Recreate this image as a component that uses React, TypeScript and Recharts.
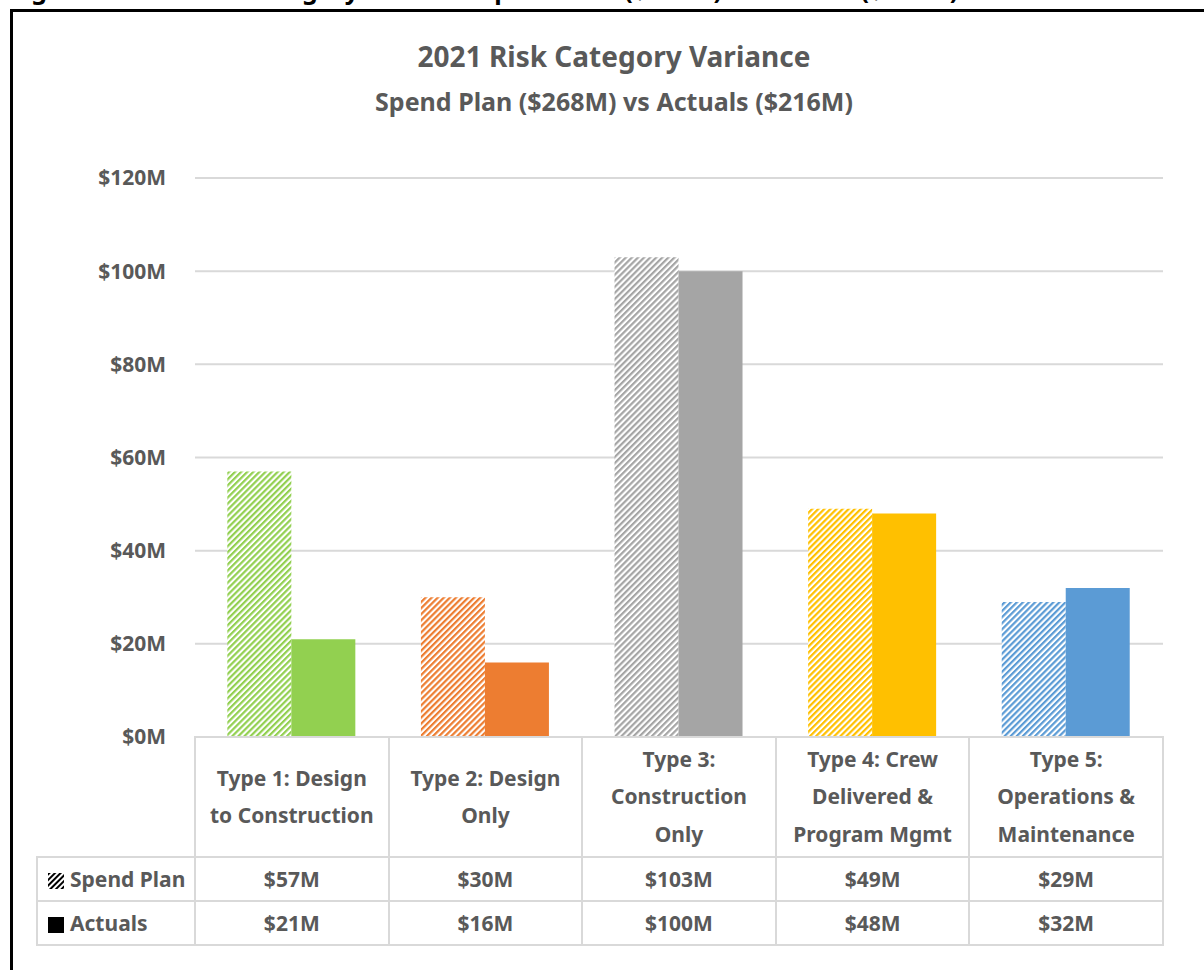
import { BarChart, Bar, XAxis, YAxis, CartesianGrid, Cell } from 'recharts'

// values in $M
const categories = [
  ['Type 1: Design', 'to Construction'],
  ['Type 2: Design', 'Only'],
  ['Type 3:', 'Construction', 'Only'],
  ['Type 4: Crew', 'Delivered &', 'Program Mgmt'],
  ['Type 5:', 'Operations &', 'Maintenance'],
]
const spendPlan = [57, 30, 103, 49, 29]
const actuals = [21, 16, 100, 48, 32]
const colors = ['#92D050', '#ED7D31', '#A5A5A5', '#FFC000', '#5B9BD5']
const yTicks = [0, 20, 40, 60, 80, 100, 120]

const data = categories.map((c, i) => ({
  name: c.join(' '),
  plan: spendPlan[i],
  actual: actuals[i],
}))

const FONT = '"Noto Sans", "Open Sans", sans-serif'
const INK = '#595959'
const LINE = '#D9D9D9'

const cell: React.CSSProperties = {
  border: `2px solid ${LINE}`,
  textAlign: 'center',
  padding: 0,
  fontSize: 21,
  fontWeight: 700,
  color: INK,
}

function HatchIcon() {
  return (
    <svg width={16} height={16} style={{ verticalAlign: 'middle', marginRight: 6 }}>
      <defs>
        <pattern id="legendHatch" width="4" height="4" patternUnits="userSpaceOnUse" patternTransform="rotate(45)">
          <rect width="2" height="4" fill="#000" />
        </pattern>
      </defs>
      <rect width="16" height="16" fill="url(#legendHatch)" />
    </svg>
  )
}

function SolidIcon() {
  return (
    <svg width={16} height={16} style={{ verticalAlign: 'middle', marginRight: 6 }}>
      <rect width="16" height="16" fill="#000" />
    </svg>
  )
}

export default function App() {
  return (
    <div style={{ position: 'absolute', left: 0, top: 0, width: 1204, height: 970, overflow: 'hidden', background: '#fff', fontFamily: FONT }}>
      {/* figure caption, cut off at the top of the page like in the source */}
      <svg width={1204} height={10} style={{ position: 'absolute', left: 0, top: 0 }}>
        <text x={10} y={-1} fontSize={25} fontWeight={700} fill="#000" fontFamily={FONT}>
          Figure 3: 2021 Risk Category Variance Spend Plan ($268M) vs Actuals ($216M)
        </text>
      </svg>
      <div style={{ position: 'absolute', left: 10, top: 9, width: 1300, height: 1100, border: '3px solid #000' }} />

      <div style={{ position: 'absolute', left: 0, top: 37, width: 1228, textAlign: 'center', color: INK, fontWeight: 700, fontSize: 28 }}>
        2021 Risk Category Variance
      </div>
      <div style={{ position: 'absolute', left: 0, top: 84, width: 1228, textAlign: 'center', color: INK, fontWeight: 700, fontSize: 25 }}>
        Spend Plan ($268M) vs Actuals ($216M)
      </div>

      <div style={{ position: 'absolute', left: 0, top: 0 }}>
        <BarChart
          width={1204}
          height={970}
          data={data}
          margin={{ top: 178, right: 41, left: 0, bottom: 233 }}
          barCategoryGap="16.7%"
          barGap={0}
        >
          <defs>
            {colors.map((c, i) => (
              <pattern key={i} id={`hatch${i}`} width="4.3" height="4.3" patternUnits="userSpaceOnUse" patternTransform="rotate(45)">
                <rect width="4.3" height="4.3" fill="#fff" />
                <rect width="2.2" height="4.3" fill={c} />
              </pattern>
            ))}
          </defs>
          <CartesianGrid vertical={false} stroke={LINE} strokeWidth={2} />
          <XAxis dataKey="name" hide />
          <YAxis
            width={195}
            domain={[0, 120]}
            ticks={yTicks}
            axisLine={false}
            tickLine={false}
            tickSize={0}
            tickMargin={29}
            tick={{ fontSize: 21, fontWeight: 700, fill: INK, fontFamily: FONT }}
            tickFormatter={(v) => `$${v}M`}
          />
          <Bar dataKey="plan" isAnimationActive={false}>
            {data.map((_, i) => (
              <Cell key={i} fill={`url(#hatch${i})`} />
            ))}
          </Bar>
          <Bar dataKey="actual" isAnimationActive={false}>
            {data.map((_, i) => (
              <Cell key={i} fill={colors[i]} />
            ))}
          </Bar>
        </BarChart>
      </div>

      <table
        style={{
          position: 'absolute',
          left: 36,
          top: 736,
          borderCollapse: 'collapse',
          tableLayout: 'fixed',
          width: 1128,
          fontFamily: FONT,
        }}
      >
        <colgroup>
          <col style={{ width: 158 }} />
          {categories.map((_, i) => (
            <col key={i} style={{ width: 193.6 }} />
          ))}
        </colgroup>
        <tbody>
          <tr style={{ height: 120 }}>
            <td style={{ ...cell, borderTop: 'none', borderLeft: 'none' }} />
            {categories.map((lines, i) => (
              <td key={i} style={{ ...cell, lineHeight: '37.5px' }}>
                {lines.map((l, j) => (
                  <div key={j}>{l}</div>
                ))}
              </td>
            ))}
          </tr>
          <tr style={{ height: 44 }}>
            <td style={{ ...cell, textAlign: 'left', paddingLeft: 10, whiteSpace: 'nowrap' }}>
              <HatchIcon />
              Spend Plan
            </td>
            {spendPlan.map((v, i) => (
              <td key={i} style={cell}>${v}M</td>
            ))}
          </tr>
          <tr style={{ height: 44 }}>
            <td style={{ ...cell, textAlign: 'left', paddingLeft: 10, whiteSpace: 'nowrap' }}>
              <SolidIcon />
              Actuals
            </td>
            {actuals.map((v, i) => (
              <td key={i} style={cell}>${v}M</td>
            ))}
          </tr>
        </tbody>
      </table>
    </div>
  )
}
